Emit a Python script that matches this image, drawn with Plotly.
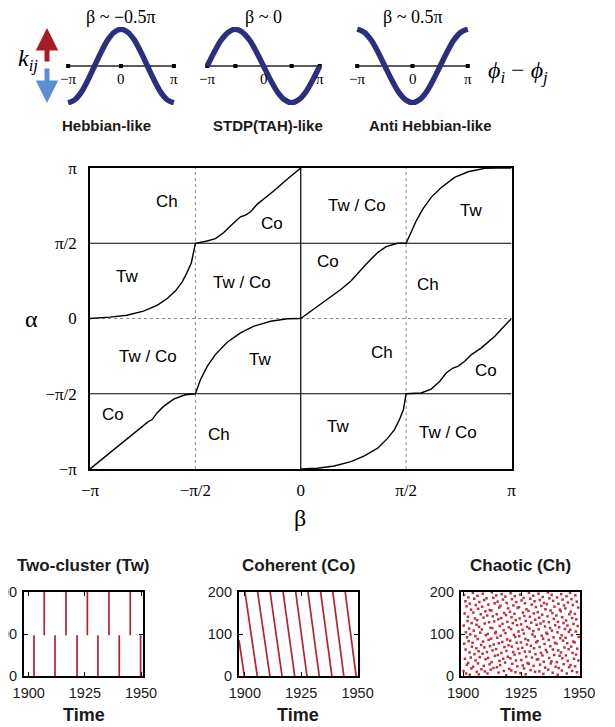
import plotly.graph_objects as go

# page body has an 8px margin: figure is drawn 8px in from the window corner
OFF = 8
W, H = 615 - OFF, 727 - OFF
def px(x): return (x - OFF) / W
def py(y): return 1 - (y - OFF) / H

# ---------------- data ----------------
# top: plasticity windows (x in units of pi)
wave_phase = [-1, -0.875, -0.75, -0.625, -0.5, -0.375, -0.25, -0.125, 0, 0.125, 0.25, 0.375, 0.5, 0.625, 0.75, 0.875, 1]
wave_hebbian = [-1, -0.92, -0.71, -0.38, 0, 0.38, 0.71, 0.92, 1, 0.92, 0.71, 0.38, 0, -0.38, -0.71, -0.92, -1]
wave_stdp = [0, 0.38, 0.71, 0.92, 1, 0.92, 0.71, 0.38, 0, -0.38, -0.71, -0.92, -1, -0.92, -0.71, -0.38, 0]
wave_anti = [1, 0.92, 0.71, 0.38, 0, -0.38, -0.71, -0.92, -1, -0.92, -0.71, -0.38, 0, 0.38, 0.71, 0.92, 1]
wave_titles = ["β ~ −0.5π", "β ~ 0", "β ~ 0.5π"]
wave_names = ["Hebbian-like", "STDP(TAH)-like", "Anti Hebbian-like"]

# main phase diagram (beta, alpha in units of pi)
curveA_beta = [-1, -0.905, -0.825, -0.746, -0.682, -0.635, -0.595, -0.563, -0.540, -0.519, -0.5, -0.444, -0.405, -0.365, -0.325, -0.286, -0.262, -0.238, -0.206, -0.175, -0.127, -0.063, 0]
curveA_alpha = [0, 0.009, 0.022, 0.049, 0.087, 0.131, 0.182, 0.242, 0.305, 0.371, 0.5, 0.515, 0.531, 0.571, 0.627, 0.676, 0.687, 0.709, 0.76, 0.793, 0.849, 0.927, 1.0]
curveB_beta = [-1, -0.937, -0.873, -0.802, -0.762, -0.722, -0.706, -0.683, -0.651, -0.603, -0.548, -0.5, -0.476, -0.444, -0.405, -0.349, -0.286, -0.222, -0.143, -0.063, 0]
curveB_alpha = [-1, -0.929, -0.851, -0.773, -0.729, -0.684, -0.673, -0.629, -0.584, -0.536, -0.507, -0.5, -0.407, -0.318, -0.24, -0.158, -0.096, -0.051, -0.018, -0.002, 0]
curveC_beta = [0, 0.063, 0.127, 0.190, 0.238, 0.286, 0.310, 0.333, 0.365, 0.405, 0.46, 0.5, 0.524, 0.548, 0.579, 0.619, 0.667, 0.730, 0.794, 0.873, 0.937, 1]
curveC_alpha = [0, 0.065, 0.127, 0.193, 0.249, 0.327, 0.36, 0.393, 0.438, 0.478, 0.5, 0.5, 0.571, 0.649, 0.727, 0.805, 0.871, 0.938, 0.975, 0.998, 1.0, 1.0]
curveD_beta = [0, 0.079, 0.159, 0.238, 0.302, 0.365, 0.413, 0.444, 0.468, 0.487, 0.5, 0.571, 0.619, 0.659, 0.69, 0.722, 0.746, 0.778, 0.810, 0.857, 0.921, 1]
curveD_alpha = [-1, -0.995, -0.98, -0.951, -0.913, -0.862, -0.795, -0.74, -0.673, -0.607, -0.5, -0.495, -0.469, -0.418, -0.362, -0.329, -0.318, -0.284, -0.24, -0.195, -0.118, 0]

region_text = ["Ch", "Co", "Tw", "Tw / Co", "Tw / Co", "Tw", "Co", "Ch",
               "Tw / Co", "Tw", "Co", "Ch", "Ch", "Co", "Tw", "Tw / Co"]
region_beta = [-0.635, -0.135, -0.825, -0.278, 0.267, 0.81, 0.13, 0.603,
               -0.727, -0.195, -0.889, -0.389, 0.384, 0.881, 0.175, 0.698]
region_alpha = [0.775, 0.633, 0.282, 0.242, 0.749, 0.72, 0.378, 0.227,
                -0.255, -0.273, -0.64, -0.773, -0.229, -0.344, -0.718, -0.758]

pi_ticks = [-1, -0.5, 0, 0.5, 1]
pi_labels = ["−π", "−π/2", "0", "π/2", "π"]

# bottom rasters
tw_lower_times = [1902.35, 1911.7, 1921.5, 1930.8, 1940.3, 1949.8]
tw_upper_times = [1906.9, 1916.6, 1926.1, 1935.7, 1945.2]
tw_split = 97
co_start_time = [1897.4, 1900.05, 1905.65, 1911.2, 1916.95, 1922.55, 1928.0, 1933.6, 1939.0, 1944.5]
co_start_neuron = [85, 200, 200, 200, 200, 200, 200, 200, 200, 200]
co_end_time = [1899.75, 1905.5, 1911.1, 1916.5, 1922.1, 1927.55, 1933.0, 1938.6, 1943.9, 1949.35]
co_end_neuron = [0, 0, 0, 0, 0, 0, 0, 0, 0, 0]
ch_spikes = [
(1900.4,193),(1901.0,178),(1901.5,166),(1900.7,149),(1901.9,131),(1900.3,120),(1901.2,104),(1901.7,92),(1900.5,77),(1901.1,63),(1900.8,41),(1901.6,27),(1900.2,12),(1901.3,6),
(1902.3,187),(1902.9,172),(1903.4,158),(1902.1,141),(1903.7,126),(1902.6,113),(1903.1,99),(1902.4,83),(1903.8,70),(1902.8,56),(1903.3,44),(1902.2,31),(1903.6,18),(1902.9,3),
(1904.2,198),(1904.8,184),(1905.5,169),(1904.4,151),(1905.1,137),(1905.8,122),(1904.6,108),(1905.3,95),(1904.1,79),(1905.7,66),(1904.9,52),(1905.4,37),(1904.3,22),(1905.9,10),
(1906.2,191),(1907.0,176),(1906.5,160),(1907.6,147),(1906.1,133),(1906.9,117),(1907.4,103),(1906.3,88),(1907.8,74),(1906.7,59),(1907.2,45),(1906.4,30),(1907.9,16),(1906.8,4),
(1908.5,196),(1909.1,181),(1908.2,165),(1909.6,154),(1908.8,139),(1909.3,125),(1908.1,111),(1909.8,97),(1908.6,82),(1909.2,68),(1908.4,53),(1909.7,40),(1908.9,24),(1909.4,11),
(1910.1,185),(1910.9,170),(1911.5,157),(1910.4,144),(1911.2,128),(1911.8,115),(1910.6,100),(1911.0,86),(1911.6,71),(1910.3,57),(1910.8,43),(1911.4,28),(1911.9,15),(1910.5,6),
(1912.4,199),(1913.0,186),(1913.6,173),(1912.2,156),(1912.8,142),(1913.4,130),(1912.6,114),(1913.9,102),(1912.1,89),(1913.2,75),(1912.7,61),(1913.7,48),(1912.3,33),(1913.1,19),
(1914.3,192),(1914.9,177),(1915.6,163),(1914.5,147),(1915.2,135),(1915.8,119),(1914.1,105),(1914.7,91),(1915.4,78),(1914.2,64),(1915.0,50),(1915.7,36),(1914.6,21),(1915.3,8),
(1916.6,195),(1917.2,182),(1916.1,167),(1917.7,150),(1916.4,138),(1917.0,124),(1917.5,109),(1916.2,96),(1916.9,81),(1917.8,69),(1916.5,55),(1917.3,41),(1916.0,26),(1917.6,12),
(1918.2,189),(1918.8,174),(1919.4,161),(1918.5,145),(1919.1,129),(1919.7,116),(1918.3,102),(1919.0,87),(1919.6,73),(1918.7,60),(1919.3,46),(1918.1,32),(1919.9,17),(1918.6,2),
(1920.5,197),(1921.1,183),(1921.7,168),(1920.2,153),(1920.9,140),(1921.4,126),(1920.7,112),(1921.9,98),(1920.3,84),(1921.0,70),(1921.6,57),(1920.4,42),(1921.2,29),(1920.8,13),
(1922.3,190),(1922.9,176),(1923.5,162),(1922.1,148),(1922.7,133),(1923.3,121),(1923.9,106),(1922.5,93),(1923.1,79),(1923.7,65),(1922.2,51),(1922.8,37),(1923.4,23),(1922.6,9),
(1924.6,194),(1925.2,180),(1924.1,164),(1925.8,151),(1924.4,137),(1925.0,123),(1925.6,110),(1924.2,95),(1924.9,80),(1925.5,67),(1924.3,54),(1925.1,38),(1925.7,25),(1924.7,7),
(1926.1,186),(1926.7,173),(1927.3,159),(1926.4,143),(1927.0,131),(1927.6,117),(1926.2,101),(1926.9,88),(1927.5,75),(1926.6,58),(1927.2,46),(1927.8,31),(1926.3,18),(1927.0,4),
(1928.4,198),(1929.0,184),(1929.6,170),(1928.2,155),(1928.8,141),(1929.4,127),(1928.6,113),(1929.9,99),(1928.1,85),(1929.2,72),(1928.7,58),(1929.7,44),(1928.3,29),(1929.1,14),
(1930.2,191),(1930.8,178),(1931.4,164),(1930.5,149),(1931.1,134),(1931.7,122),(1930.3,107),(1930.9,94),(1931.5,80),(1930.6,66),(1931.2,52),(1931.8,39),(1930.4,24),(1931.0,10),
(1932.5,196),(1933.1,181),(1933.7,167),(1932.2,152),(1932.8,139),(1933.4,125),(1932.6,111),(1933.9,96),(1932.1,83),(1933.0,69),(1933.6,55),(1932.4,40),(1933.2,27),(1932.9,11),
(1934.3,188),(1934.9,174),(1935.5,159),(1934.1,146),(1934.7,130),(1935.3,118),(1935.9,103),(1934.5,89),(1935.1,76),(1935.7,62),(1934.2,49),(1934.8,34),(1935.4,20),(1934.6,5),
(1936.6,199),(1937.2,185),(1936.1,171),(1937.7,156),(1936.4,142),(1937.0,128),(1937.5,114),(1936.3,100),(1936.9,86),(1937.6,71),(1936.2,57),(1937.1,43),(1937.8,30),(1936.7,15),
(1938.2,193),(1938.8,179),(1939.4,165),(1938.5,150),(1939.1,136),(1939.7,121),(1938.3,108),(1939.0,92),(1939.6,79),(1938.7,63),(1939.3,50),(1938.1,35),(1939.9,22),(1938.6,8),
(1940.5,187),(1941.1,172),(1941.7,158),(1940.2,144),(1940.9,129),(1941.4,116),(1940.7,104),(1941.9,90),(1940.3,77),(1941.0,61),(1941.6,48),(1940.4,33),(1941.2,19),(1940.8,3),
(1942.3,195),(1942.9,182),(1943.5,168),(1942.1,154),(1942.7,140),(1943.3,126),(1943.9,112),(1942.5,97),(1943.1,84),(1943.7,68),(1942.2,56),(1942.8,42),(1943.4,28),(1942.6,13),
(1944.6,190),(1945.2,175),(1944.1,161),(1945.8,147),(1944.4,132),(1945.0,120),(1945.6,105),(1944.2,91),(1944.9,78),(1945.5,64),(1944.3,49),(1945.1,36),(1945.7,21),(1944.7,6),
(1946.1,198),(1946.7,183),(1947.3,169),(1946.4,153),(1947.0,138),(1947.6,124),(1946.2,110),(1946.9,97),(1947.5,82),(1946.6,70),(1947.2,55),(1947.8,41),(1946.3,26),(1947.0,12),
(1948.4,192),(1949.0,177),(1949.6,163),(1948.2,148),(1948.8,135),(1949.4,119),(1948.6,106),(1949.8,93),(1948.1,80),(1949.2,65),(1948.7,51),(1949.7,37),(1948.3,23),(1949.1,9),
]
ch_time = [p[0] for p in ch_spikes]
ch_neuron = [p[1] for p in ch_spikes]
raster_titles = ["Two-cluster (Tw)", "Coherent (Co)", "Chaotic (Ch)"]
raster_time_range = [[1897.9, 1951.0], [1897.4, 1950.05], [1899.1, 1950.4]]
time_ticks = [1900, 1925, 1950]
neuron_ticks = [0, 100, 200]

# ---------------- styles ----------------
SERIF = "Liberation Serif, Times New Roman, serif"
SANS = "Liberation Sans, Arial, sans-serif"
NAVY = "#2c2f7c"
RED = "#b3232b"

fig = go.Figure()
annotations = []
shapes = []

def paper_text(x, y, text, family, size, color="black"):
    annotations.append(dict(x=px(x), y=py(y), xref="paper", yref="paper", text=text,
                            showarrow=False, xanchor="center", yanchor="middle",
                            font=dict(family=family, size=size, color=color)))

# ---------- top plasticity panels ----------
top_dom_x = [(66, 176), (205, 322), (355, 470)]
waves = [wave_hebbian, wave_stdp, wave_anti]
tick_sets = [[-1, 0, 1], [-1, -0.5, 0, 0.5, 1], [-1, 0, 1]]
name_x = [107, 268, 430]
for i in range(3):
    xa = f"x{i+2}"
    ya = f"y{i+2}"
    fig.add_trace(go.Scatter(x=[-1, 1], y=[0, 0], mode="lines",
                             line=dict(color="#5a5a5a", width=2),
                             xaxis=xa, yaxis=ya, showlegend=False, hoverinfo="skip"))
    fig.add_trace(go.Scatter(x=tick_sets[i], y=[0] * len(tick_sets[i]), mode="markers",
                             marker=dict(color="black", size=4, symbol="square"),
                             xaxis=xa, yaxis=ya, showlegend=False, hoverinfo="skip"))
    for tv, tt in zip([-1, 0, 1], ["−π", "0", "π"]):
        annotations.append(dict(x=tv, y=-0.36, xref=xa, yref=ya, text=tt, showarrow=False,
                                xanchor="center", yanchor="middle",
                                font=dict(family=SERIF, size=15, color="black")))
    fig.add_trace(go.Scatter(x=wave_phase, y=waves[i], mode="lines",
                             line=dict(color=NAVY, width=5.5, shape="spline"),
                             xaxis=xa, yaxis=ya, showlegend=False, hoverinfo="skip"))
    cx = (top_dom_x[i][0] + top_dom_x[i][1]) / 2
    paper_text(cx, 16.5, wave_titles[i], SERIF, 18)
    paper_text(name_x[i], 125, "<b>" + wave_names[i] + "</b>", SANS, 15, "#1a1a1a")

paper_text(28, 60, "<i>k<sub>ij</sub></i>", SERIF, 24)
paper_text(518, 72, "<i>ϕ<sub>i</sub></i> − <i>ϕ<sub>j</sub></i>", SERIF, 24)
annotations.append(dict(x=px(47), y=py(28), xref="paper", yref="paper", ax=0, ay=35,
                        text="", showarrow=True, arrowhead=2, arrowsize=0.9, arrowwidth=5,
                        arrowcolor="#a51d24"))
annotations.append(dict(x=px(47), y=py(103), xref="paper", yref="paper", ax=0, ay=-36,
                        text="", showarrow=True, arrowhead=2, arrowsize=0.9, arrowwidth=5,
                        arrowcolor="#5b8fd2"))

# ---------- main phase diagram ----------
for bx, ay_ in [(curveA_beta, curveA_alpha), (curveB_beta, curveB_alpha),
                (curveC_beta, curveC_alpha), (curveD_beta, curveD_alpha)]:
    fig.add_trace(go.Scatter(x=bx, y=ay_, mode="lines", line=dict(color="black", width=1.4),
                             xaxis="x", yaxis="y", showlegend=False, hoverinfo="skip"))
for t, b, a in zip(region_text, region_beta, region_alpha):
    annotations.append(dict(x=b, y=a, xref="x", yref="y", text=t, showarrow=False,
                            xanchor="center", yanchor="middle",
                            font=dict(family=SANS, size=17, color="black")))
for v in [-0.5, 0.5]:
    shapes.append(dict(type="line", xref="x", yref="y", x0=-1, x1=1, y0=v, y1=v,
                       line=dict(color="black", width=1.2), layer="below"))
    shapes.append(dict(type="line", xref="x", yref="y", x0=v, x1=v, y0=-1, y1=1,
                       line=dict(color="#8a8a8a", width=1, dash="dot"), layer="below"))
shapes.append(dict(type="line", xref="x", yref="y", x0=0, x1=0, y0=-1, y1=1,
                   line=dict(color="black", width=1.2), layer="below"))
shapes.append(dict(type="line", xref="x", yref="y", x0=-1, x1=1, y0=0, y1=0,
                   line=dict(color="#8a8a8a", width=1, dash="dot"), layer="below"))
paper_text(31, 319, "α", SERIF, 24)
paper_text(300, 518, "β", SERIF, 24)

# ---------- bottom rasters ----------
tw_x, tw_y = [], []
for t in tw_lower_times:
    tw_x += [t, t, None]
    tw_y += [0, tw_split, None]
for t in tw_upper_times:
    tw_x += [t, t, None]
    tw_y += [tw_split, 200, None]
fig.add_trace(go.Scatter(x=tw_x, y=tw_y, mode="lines", line=dict(color=RED, width=1.7),
                         xaxis="x5", yaxis="y5", showlegend=False, hoverinfo="skip"))
co_x, co_y = [], []
for t0, n0, t1, n1 in zip(co_start_time, co_start_neuron, co_end_time, co_end_neuron):
    co_x += [t0, t1, None]
    co_y += [n0, n1, None]
fig.add_trace(go.Scatter(x=co_x, y=co_y, mode="lines", line=dict(color=RED, width=1.7),
                         xaxis="x6", yaxis="y6", showlegend=False, hoverinfo="skip"))
fig.add_trace(go.Scatter(x=ch_time, y=ch_neuron, mode="markers",
                         marker=dict(color="#c0303a", size=2.5, symbol="square", line=dict(width=0)),
                         xaxis="x7", yaxis="y7", showlegend=False, hoverinfo="skip"))

bot_dom_x = [(24, 143.3), (239, 357.7), (461, 580)]
for i in range(3):
    cx = (bot_dom_x[i][0] + bot_dom_x[i][1]) / 2
    paper_text(cx, 565, "<b>" + raster_titles[i] + "</b>", SANS, 17, "#1a1a1a")
    paper_text(cx, 715, "<b>Time</b>", SANS, 18, "#1a1a1a")

# ---------- layout ----------
layout = dict(width=W, height=H, margin=dict(l=0, r=0, t=0, b=0),
              paper_bgcolor="white", plot_bgcolor="rgba(0,0,0,0)", template="none",
              showlegend=False, annotations=annotations, shapes=shapes)

layout["xaxis"] = dict(domain=[px(90), px(511.5)], range=[-1, 1], anchor="y",
                       tickvals=pi_ticks, ticktext=pi_labels, showgrid=False, zeroline=False,
                       showline=True, mirror=True, linecolor="black", linewidth=1.5,
                       ticks="", ticklabelstandoff=5,
                       tickfont=dict(family=SERIF, size=17, color="black"))
layout["yaxis"] = dict(domain=[py(469), py(168)], range=[-1, 1], anchor="x",
                       tickvals=pi_ticks, ticktext=pi_labels, showgrid=False, zeroline=False,
                       showline=True, mirror=True, linecolor="black", linewidth=1.5,
                       ticks="", ticklabelstandoff=8,
                       tickfont=dict(family=SERIF, size=17, color="black"))
for i in range(3):
    n = i + 2
    layout[f"xaxis{n}"] = dict(domain=[px(top_dom_x[i][0]), px(top_dom_x[i][1])],
                               range=[-1.04, 1.04], anchor=f"y{n}", visible=False, fixedrange=True)
    layout[f"yaxis{n}"] = dict(domain=[py(105), py(27)], range=[-1.06, 1.06],
                               anchor=f"x{n}", visible=False, fixedrange=True)
for i in range(3):
    n = i + 5
    layout[f"xaxis{n}"] = dict(domain=[px(bot_dom_x[i][0]), px(bot_dom_x[i][1])],
                               range=raster_time_range[i], anchor=f"y{n}", tickvals=time_ticks,
                               showgrid=False, zeroline=False, showline=True, mirror="ticks",
                               linecolor="black", linewidth=2.2, ticks="inside", ticklen=4,
                               tickcolor="black", ticklabelstandoff=2,
                               tickfont=dict(family=SANS, size=14.5, color="#1a1a1a"))
    layout[f"yaxis{n}"] = dict(domain=[py(676), py(592)], range=[0, 200], anchor=f"x{n}",
                               tickvals=neuron_ticks, showgrid=False, zeroline=False,
                               showline=True, mirror="ticks", linecolor="black", linewidth=2.2,
                               ticks="inside", ticklen=4, tickcolor="black", ticklabelstandoff=2,
                               tickfont=dict(family=SANS, size=14.5, color="#1a1a1a"))

fig.update_layout(**layout)
fig.write_html("out.html")
